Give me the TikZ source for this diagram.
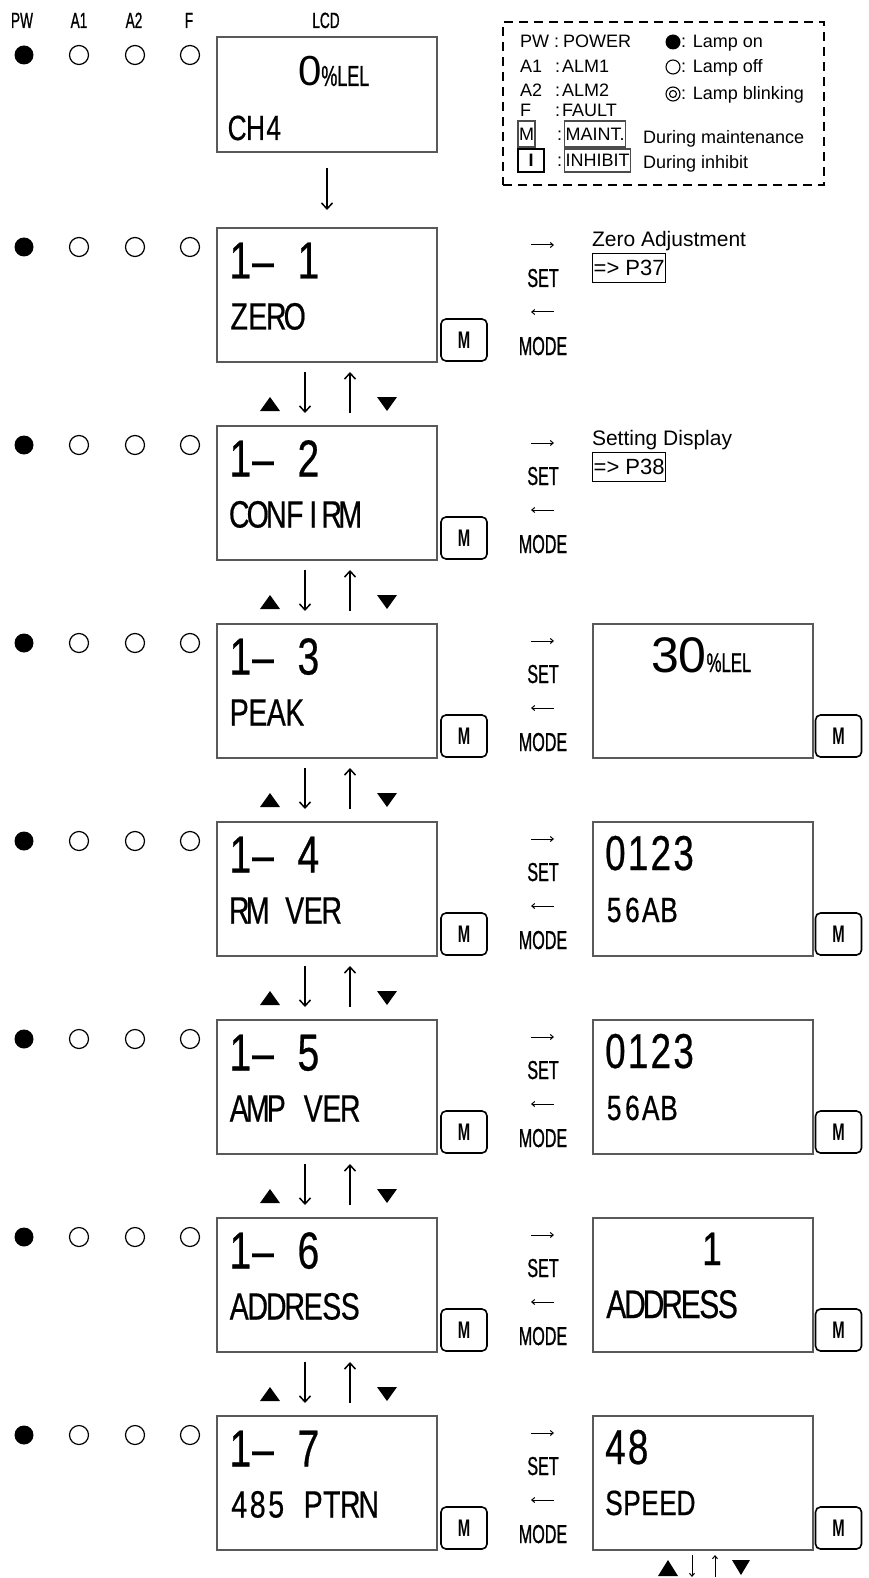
\documentclass[tikz,border=0pt]{standalone}
\usepackage{fontspec}
\setmainfont{Liberation Sans}
\newfontfamily\lcd[FakeStretch=0.75,FakeBold=0.5]{Liberation Sans}
\newfontfamily\lcdn[FakeStretch=0.62,FakeBold=0.8]{Liberation Sans}
\newfontfamily\mfont[FakeStretch=0.62]{Liberation Sans Bold}
\usetikzlibrary{arrows.meta,calc}
\makeatletter
\newcommand\mono[2]{\@tfor\mo@c:=#2\do{\makebox[#1][c]{\mo@c}}}
\makeatother
\newcommand\fs[1]{\fontsize{#1pt}{#1pt}\selectfont}
\tikzset{
  lcdbox/.style={draw=black!65, line width=1.4pt, minimum width=220pt, minimum height=134pt, inner sep=0pt, outer sep=0pt},
  mbtn/.style={draw, line width=1.6pt, rounded corners=5pt, minimum width=46pt, minimum height=42pt, inner sep=0pt, font=\mfont\fs{24}},
  lampon/.style={circle, fill=black, minimum size=19pt, inner sep=0pt},
  lampoff/.style={circle, draw, line width=1.2pt, minimum size=19pt, inner sep=0pt},
  txt/.style={inner sep=0pt, outer sep=0pt, anchor=base west},
  hdr/.style={inner sep=0pt, anchor=base, font=\lcdn\fs{22}},
  keyl/.style={inner sep=0pt, anchor=base, font=\lcdn\fs{26}},
  vflow/.style={line width=1.6pt, -{Straight Barb[length=6pt,width=11pt,line width=1.5pt]}},
  hflow/.style={line width=1pt, -{Straight Barb[length=3pt,width=5pt,line width=1pt]}},
  sflow/.style={line width=1pt, -{Straight Barb[length=3pt,width=5pt,line width=1pt]}},
  refbox/.style={draw, line width=1.4pt, inner xsep=1pt, inner ysep=0pt, minimum height=29pt, font=\fs{22}, anchor=north west},
  legt/.style={inner sep=0pt, anchor=base west, font=\fs{18}},
  legbox/.style={draw, line width=1.4pt, inner xsep=1pt, inner ysep=0pt, font=\fs{18}, anchor=west},
}
\newcommand\lrow[2]{%
  \pgfmathsetmacro\T{228+198*(#1-1)}%
  \node[lcdbox] (L#1) at (327,\T+67) {};
  \node[lampon] (pw#1) at (24,\T+19) {};
  \node[lampoff] (aa#1) at (79,\T+19) {};
  \node[lampoff] (ab#1) at (135,\T+19) {};
  \node[lampoff] (ff#1) at (190,\T+19) {};
  \node[txt,font=\lcd\fs{52}] (n#1) at ($(L#1.north west)+(12,50.5)$) {\mono{22.7pt}{1{\textendash}~#1}};
  \node[txt,font=\lcd\fs{38}] (s#1) at ($(L#1.north west)+(13,101.5)$) {\mono{18.5pt}{#2}};
  \node[keyl] (set#1) at (543,\T+59) {SET};
  \node[keyl] (mode#1) at (543,\T+127) {MODE};
  \draw[hflow] ($(set#1.base)+(-12,-42)$) -- ($(set#1.base)+(11,-42)$);
  \draw[hflow] ($(mode#1.base)+(11,-43)$) -- ($(mode#1.base)+(-12,-43)$);
  \node[mbtn] (M#1) at ($(L#1.south east)+(27,-22)$) {M};
}
\newcommand\rrow[1]{%
  \pgfmathsetmacro\T{228+198*(#1-1)}%
  \node[lcdbox] (R#1) at (703,\T+67) {};
  \node[mbtn] (N#1) at ($(R#1.south east)+(25.5,-22)$) {M};
}
\newcommand\updown[2]{%
  \draw[vflow] ($(L#1.south)+(-22,10)$) -- ($(L#2.north)+(-22,-13)$);
  \draw[vflow] ($(L#2.north)+(23,-13)$) -- ($(L#1.south)+(23,10)$);
  \fill ($(L#1.south)+(-67,49)$) -- ++(20,0) -- ++(-10,-14) -- cycle;
  \fill ($(L#1.south)+(50,35)$) -- ++(20,0) -- ++(-10,14) -- cycle;
}
\begin{document}
\begin{tikzpicture}[x=1pt,y=-1pt]
\useasboundingbox (0,0) rectangle (868,1578);
\fill[white] (0,0) rectangle (868,1578);
% headers
\node[hdr] (hpw) at (22,28) {PW};
\node[hdr] (ha1) at (79,28) {A1};
\node[hdr] (ha2) at (134,28) {A2};
\node[hdr] (hf) at (189,28) {F};
\node[hdr] (hlcd) at (326,28) {LCD};
% top display
\node[lcdbox, minimum height=115pt] (L0) at (327,94.5) {};
\node[lampon] (pw0) at (24,55) {};
\node[lampoff] (aa0) at (79,55) {};
\node[lampoff] (ab0) at (135,55) {};
\node[lampoff] (ff0) at (190,55) {};
\node[txt] (z0) at ($(L0.north west)+(81,49)$) {\fs{42}0\lcdn\fs{29}\%LEL};
\node[txt,font=\lcd\fs{35}] (c0) at ($(L0.north west)+(11,103)$) {\mono{18.3pt}{CH4}};
% rows
\lrow{1}{ZERO}
\lrow{2}{CONFIRM}
\lrow{3}{PEAK}
\lrow{4}{RM~VER}
\lrow{5}{AMP~VER}
\lrow{6}{ADDRESS}
\lrow{7}{485~PTRN}
\draw[vflow] ($(L0.south)+(0,16)$) -- ($(L1.north)+(0,-18)$);
\updown{1}{2}
\updown{2}{3}
\updown{3}{4}
\updown{4}{5}
\updown{5}{6}
\updown{6}{7}
% right displays
\rrow{3}
\rrow{4}
\rrow{5}
\rrow{6}
\rrow{7}
\node[txt] (r3a) at ($(R3.north west)+(58,48)$) {\fs{50}30\lcdn\fs{27}\%LEL};
\node[txt,font=\lcd\fs{49}] (r4a) at ($(R4.north west)+(11,48)$) {\mono{22.75pt}{0123}};
\node[txt,font=\lcd\fs{35}] (r4b) at ($(R4.north west)+(12,100)$) {\mono{18.3pt}{56AB}};
\node[txt,font=\lcd\fs{49}] (r5a) at ($(R5.north west)+(11,48)$) {\mono{22.75pt}{0123}};
\node[txt,font=\lcd\fs{35}] (r5b) at ($(R5.north west)+(12,100)$) {\mono{18.3pt}{56AB}};
\node[inner sep=0pt, anchor=base, font=\lcd\fs{47}] (r6a) at ($(R6.north)+(9,47)$) {1};
\node[txt,font=\lcd\fs{40}] (r6b) at ($(R6.north west)+(14,100)$) {\mono{18.6pt}{ADDRESS}};
\node[txt,font=\lcd\fs{49}] (r7a) at ($(R7.north west)+(11,48)$) {\mono{22.75pt}{48}};
\node[txt,font=\lcd\fs{35}] (r7b) at ($(R7.north west)+(12,99)$) {\mono{18pt}{SPEED}};
% bottom marks under R7
\fill ($(R7.south)+(-45,26)$) -- ++(20,0) -- ++(-10,-16) -- cycle;
\fill ($(R7.south)+(29,10)$) -- ++(18,0) -- ++(-9,15) -- cycle;
\draw[sflow] ($(R7.south)+(-11,5)$) -- ($(R7.south)+(-11,27)$);
\draw[sflow] ($(R7.south)+(12,27)$) -- ($(R7.south)+(12,5)$);
% annotations
\node[txt, font=\fs{21}] (za) at (592,247) {Zero Adjustment};
\node[refbox] (p37) at ($(za.base west)+(0,6)$) {=>~P37};
\node[txt, font=\fs{21}] (sd) at (592,445) {Setting Display};
\node[refbox] (p38) at ($(sd.base west)+(0,7)$) {=>~P38};
% legend
\node[draw, line width=1.6pt, dash pattern=on 9pt off 6pt, minimum width=321pt, minimum height=163pt, inner sep=0pt] (leg) at (663.5,103.5) {};
\node[legt] (lpw) at (520,48) {PW};
\node[legt] (lpwc) at (554,48) {:};
\node[legt] (lpwv) at (563,48) {POWER};
\node[legt] (la1) at (520,73) {A1};
\node[legt] (la1c) at (555,73) {:};
\node[legt] (la1v) at (562,73) {ALM1};
\node[legt] (la2) at (520,97) {A2};
\node[legt] (la2c) at (555,97) {:};
\node[legt] (la2v) at (562,97) {ALM2};
\node[legt] (lf) at (520,117) {F};
\node[legt] (lfc) at (555,117) {:};
\node[legt] (lfv) at (562,117) {FAULT};
\node[draw=black!70, line width=1.1pt, minimum width=17pt, minimum height=26pt, inner sep=0pt, font=\fs{18}] (lmb) at (526.5,134) {M};
\node[legt] (lmc) at (557,141) {:};
\node[legbox, minimum height=26pt, draw=black!70] (lmaint) at (564,134) {MAINT.};
\node[draw, line width=2pt, minimum width=26pt, minimum height=23pt, inner sep=0pt, font=\bfseries\fs{18}] (lib) at (531,160.5) {I};
\node[legt] (lic) at (557,167) {:};
\node[legbox, minimum height=23pt, draw=black!70] (linh) at (564,160.5) {INHIBIT};
\node[legt] (ldm) at (643,144) {During maintenance};
\node[legt] (ldi) at (643,169) {During inhibit};
\node[circle, fill=black, minimum size=15pt, inner sep=0pt] (lon) at (673,42) {};
\node[legt] (lont) at (681,48) {: Lamp on};
\node[circle, draw, line width=1.1pt, minimum size=14pt, inner sep=0pt] (loff) at (673,67) {};
\node[legt] (lofft) at (681,73) {: Lamp off};
\node[circle, draw, line width=1.1pt, minimum size=14pt, inner sep=0pt] (lbl) at (673,94) {};
\node[circle, draw, line width=1.1pt, minimum size=7pt, inner sep=0pt] (lbli) at (lbl) {};
\node[legt] (lblt) at (681,100) {: Lamp blinking};
\end{tikzpicture}
\end{document}
